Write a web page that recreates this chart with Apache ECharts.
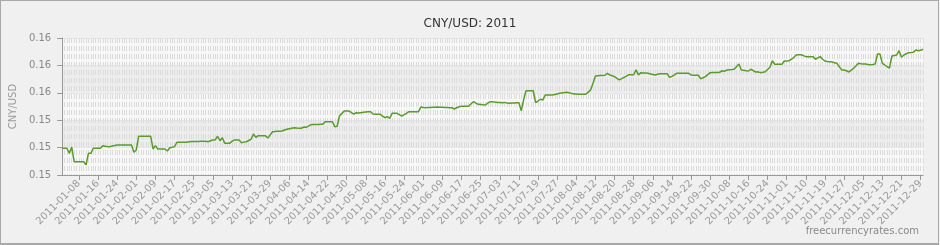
<!DOCTYPE html>
<html>
<head>
<meta charset="utf-8">
<script src="https://cdn.jsdelivr.net/npm/echarts@6/dist/echarts.min.js"></script>
<style>
html,body{margin:0;padding:0;background:#f0f0f0;}
#chart{position:absolute;left:0;top:0;width:940px;height:245px;}
#frame{position:absolute;left:0;top:0;width:939px;height:245px;box-sizing:border-box;border:1px solid #a9a9a9;border-bottom-width:2px;pointer-events:none;}
</style>
</head>
<body>
<div id="chart"></div>
<div id="frame"></div>
<script>
// Categories: daily dates of 2011 (three days absent in the source series)
const startDate = '2011-01-01';
const pointCount = 361;
const missingDates = ['2011-09-01', '2011-11-05', '2011-11-14'];

// CNY/USD values
const rates = [
0.15145,0.15145,0.15145,0.15108,0.15154,0.15047,0.15047,0.15047,0.15047,0.15047,
0.15025,0.15108,0.15108,0.15145,0.15145,0.15145,0.15145,0.15164,0.15160,0.15158,
0.15157,0.15162,0.15165,0.15169,0.15169,0.15169,0.15169,0.15169,0.15169,0.15169,
0.15116,0.15133,0.15233,0.15233,0.15233,0.15233,0.15233,0.15233,0.15140,0.15164,
0.15140,0.15140,0.15140,0.15140,0.15125,0.15149,0.15152,0.15157,0.15189,0.15189,
0.15189,0.15189,0.15189,0.15193,0.15194,0.15194,0.15195,0.15195,0.15196,0.15196,
0.15196,0.15193,0.15200,0.15206,0.15206,0.15233,0.15200,0.15222,0.15181,0.15181,
0.15181,0.15195,0.15206,0.15206,0.15206,0.15186,0.15190,0.15193,0.15202,0.15211,
0.15249,0.15225,0.15237,0.15237,0.15237,0.15237,0.15220,0.15243,0.15266,0.15268,
0.15269,0.15270,0.15271,0.15278,0.15284,0.15288,0.15292,0.15295,0.15293,0.15292,
0.15291,0.15300,0.15298,0.15307,0.15317,0.15318,0.15318,0.15319,0.15320,0.15320,
0.15339,0.15339,0.15339,0.15339,0.15303,0.15306,0.15383,0.15400,0.15417,0.15417,
0.15417,0.15405,0.15395,0.15405,0.15402,0.15405,0.15408,0.15410,0.15411,0.15412,
0.15395,0.15394,0.15393,0.15393,0.15380,0.15368,0.15376,0.15364,0.15400,0.15400,
0.15400,0.15390,0.15379,0.15390,0.15400,0.15412,0.15412,0.15412,0.15412,0.15412,
0.15446,0.15443,0.15441,0.15442,0.15443,0.15444,0.15445,0.15446,0.15445,0.15444,
0.15443,0.15442,0.15441,0.15441,0.15432,0.15441,0.15448,0.15452,0.15452,0.15452,
0.15452,0.15470,0.15485,0.15475,0.15466,0.15464,0.15462,0.15461,0.15475,0.15485,
0.15485,0.15482,0.15480,0.15479,0.15478,0.15480,0.15476,0.15473,0.15475,0.15476,
0.15477,0.15478,0.15419,0.15500,0.15565,0.15565,0.15565,0.15565,0.15478,0.15490,
0.15503,0.15497,0.15534,0.15534,0.15534,0.15534,0.15538,0.15542,0.15546,0.15549,
0.15552,0.15554,0.15551,0.15546,0.15541,0.15541,0.15540,0.15540,0.15539,0.15539,
0.15555,0.15571,0.15620,0.15673,0.15675,0.15676,0.15677,0.15678,0.15692,0.15680,
0.15674,0.15668,0.15655,0.15644,0.15653,0.15663,0.15672,0.15682,0.15682,0.15682,
0.15717,0.15680,0.15697,0.15695,0.15694,0.15692,0.15688,0.15684,0.15680,0.15685,
0.15689,0.15689,0.15689,0.15689,0.15663,0.15670,0.15680,0.15692,0.15692,0.15692,
0.15692,0.15692,0.15692,0.15680,0.15679,0.15679,0.15678,0.15653,0.15660,0.15668,
0.15683,0.15697,0.15698,0.15699,0.15699,0.15700,0.15711,0.15707,0.15717,0.15719,
0.15720,0.15722,0.15740,0.15760,0.15717,0.15714,0.15711,0.15709,0.15722,0.15712,
0.15702,0.15703,0.15697,0.15700,0.15704,0.15720,0.15736,0.15784,0.15758,0.15758,
0.15758,0.15758,0.15782,0.15783,0.15784,0.15795,0.15809,0.15826,0.15827,0.15828,
0.15821,0.15814,0.15814,0.15814,0.15814,0.15795,0.15805,0.15814,0.15795,0.15782,
0.15779,0.15777,0.15775,0.15770,0.15765,0.15740,0.15717,0.15716,0.15711,0.15702,
0.15715,0.15729,0.15748,0.15765,0.15762,0.15761,0.15760,0.15757,0.15755,0.15757,
0.15760,0.15833,0.15833,0.15765,0.15753,0.15740,0.15731,0.15819,0.15822,0.15826,
0.15857,0.15809,0.15826,0.15835,0.15843,0.15844,0.15846,0.15863,0.15857,0.15860,
0.15868
];

// Y axis ticks
const yMin = 0.1495;
const yMax = 0.1595;
const yStep = 0.002;

const titleText = 'CNY/USD: 2011';
const axisName = 'CNY/USD';
const sourceText = 'freecurrencyrates.com';

function buildDates() {
  const out = [];
  const d = new Date(startDate + 'T00:00:00Z');
  while (out.length < pointCount) {
    const s = d.toISOString().slice(0, 10);
    if (missingDates.indexOf(s) < 0) out.push(s);
    d.setUTCDate(d.getUTCDate() + 1);
  }
  return out;
}
const dates = buildDates();

const FONT = 'DejaVu Sans';
const every8 = function (i) { return i % 8 === 7; };

const chart = echarts.init(document.getElementById('chart'), null, {renderer: 'canvas'});
chart.setOption({
  animation: false,
  backgroundColor: '#f0f0f0',
  title: {
    text: titleText,
    left: 'center',
    top: 13,
    textStyle: {fontFamily: FONT, fontSize: 12, fontWeight: 'normal', color: '#333'}
  },
  grid: {left: 61, right: 17, top: 38, bottom: 70, containLabel: false},
  xAxis: {
    type: 'category',
    data: dates,
    boundaryGap: false,
    axisLine: {show: true, lineStyle: {color: '#999', width: 1}},
    axisTick: {show: true, interval: every8, length: 5, lineStyle: {color: '#999'}},
    axisLabel: {
      interval: every8,
      rotate: 45,
      margin: 7,
      fontFamily: FONT,
      fontSize: 10,
      color: '#9a9a9a'
    },
    splitLine: {show: true, interval: 0, lineStyle: {color: '#dcdcdc', width: 1, type: [5, 3]}}
  },
  yAxis: {
    type: 'value',
    min: yMin,
    max: yMax,
    interval: yStep,
    name: axisName,
    nameLocation: 'middle',
    nameGap: 38,
    nameTextStyle: {fontFamily: FONT, fontSize: 10, color: '#999'},
    axisLine: {show: true, lineStyle: {color: '#999', width: 1}},
    axisTick: {show: true, length: 5, lineStyle: {color: '#999'}},
    axisLabel: {
      margin: 11,
      fontFamily: FONT,
      fontSize: 10,
      color: '#888',
      formatter: function (v) { return v.toFixed(2); }
    },
    splitLine: {show: true, lineStyle: {color: '#e6e6e6'}},
    splitArea: {show: true, areaStyle: {color: ['#f7f7f7', '#ededed']}}
  },
  series: [{
    type: 'line',
    data: rates,
    showSymbol: false,
    symbol: 'none',
    lineStyle: {color: '#5b9a2d', width: 1.5},
    itemStyle: {color: '#5b9a2d'}
  }],
  graphic: [{
    type: 'text',
    right: 21,
    top: 226,
    style: {text: sourceText, fontFamily: FONT, fontSize: 10, fill: '#8a8a8a'}
  }]
});
</script>
</body>
</html>
